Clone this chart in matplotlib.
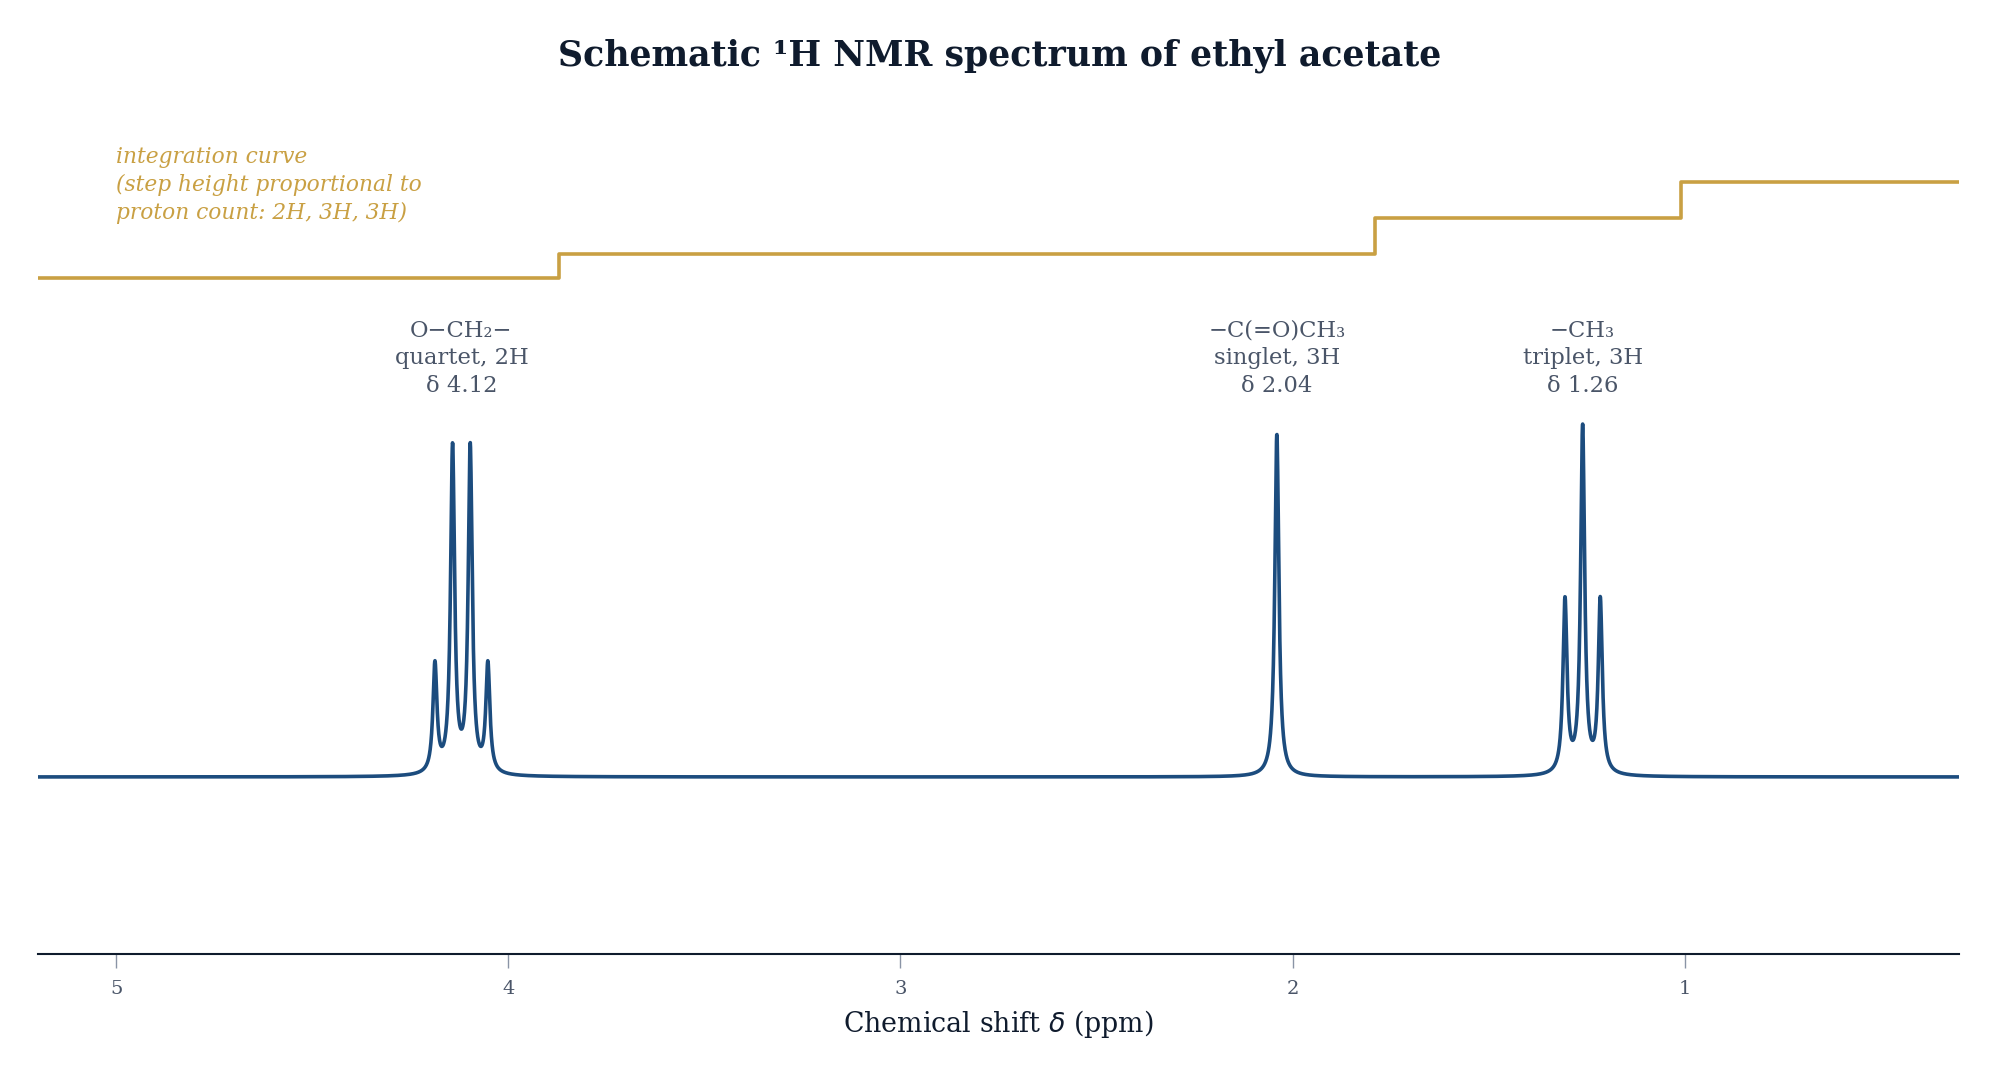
import numpy as np
import matplotlib
matplotlib.use("Agg")
import matplotlib.pyplot as plt

# ---- data ----
group_labels = ["O\u2212CH\u2082\u2212", "\u2212C(=O)CH\u2083", "\u2212CH\u2083"]
group_mult = ["quartet, 2H", "singlet, 3H", "triplet, 3H"]
group_shift = [4.12, 2.04, 1.26]
group_protons = [2, 3, 3]
# individual lines of each multiplet (ppm) and amplitudes
line_pos_q = [4.1875, 4.1425, 4.0975, 4.0525]
line_amp_q = [0.316, 0.95, 0.95, 0.316]
line_pos_s = [2.04]
line_amp_s = [1.0]
line_pos_t = [1.305, 1.26, 1.215]
line_amp_t = [0.505, 1.01, 0.505]
linewidth_ppm = 0.0062   # Lorentzian half width
integ_base = 1.455
integ_per_H = 0.035
integ_step_x = [3.87, 1.79, 1.01]
xticks = [5, 4, 3, 2, 1]
xlim = (5.2, 0.3)

# ---- style ----
serif = ["DejaVu Serif"]
plt.rcParams['font.family'] = serif
navy = "#0f1b2d"
slate = "#4a5568"
blue = "#1c4c7e"
gold = "#c9a043"

fig = plt.figure(figsize=(20, 10.8), dpi=100)
ax = fig.add_axes([0.019, 0.1167, 0.9605, 0.7833])

x = np.linspace(xlim[0], xlim[1], 8000)
pos = line_pos_q + line_pos_s + line_pos_t
amp = line_amp_q + line_amp_s + line_amp_t
y = np.zeros_like(x)
for p, a in zip(pos, amp):
    y += a / (1 + ((x - p) / linewidth_ppm) ** 2)
ax.plot(x, y, color=blue, lw=2.6, solid_capstyle='round')

# integration step curve
levels = [integ_base]
for h in group_protons:
    levels.append(levels[-1] + h * integ_per_H)
sx = [xlim[0]]
sy = [levels[0]]
for i, xs in enumerate(integ_step_x):
    sx += [xs, xs]
    sy += [levels[i], levels[i + 1]]
sx.append(xlim[1])
sy.append(levels[-1])
ax.plot(sx, sy, color=gold, lw=2.6)

ax.text(5.0, 1.838, "integration curve\n(step height proportional to\nproton count: 2H, 3H, 3H)",
        color=gold, style='italic', fontsize=15.7, ha='left', va='top', linespacing=1.32)

for lab, mult, sh in zip(group_labels, group_mult, group_shift):
    ax.text(sh, 1.22, f"{lab}\n{mult}\n\u03b4 {sh:.2f}", color=slate, fontsize=16.3,
            ha='center', va='center', linespacing=1.33)

ax.set_xlim(*xlim)
ax.set_ylim(-0.516, 1.95)
ax.set_yticks([])
ax.set_xticks(xticks)
ax.set_xticklabels([str(t) for t in xticks])
for s in ['top', 'right', 'left']:
    ax.spines[s].set_visible(False)
ax.spines['bottom'].set_color(navy)
ax.spines['bottom'].set_linewidth(1.5)
ax.tick_params(axis='x', colors=slate, labelsize=14, length=10, width=1, pad=9)
ax.tick_params(axis='x', color="#8a94a6")
ax.set_xlabel("Chemical shift $\\delta$ (ppm)", color=navy, fontsize=19.4, labelpad=7)

fig.text(0.5, 0.948, "Schematic \u00b9H NMR spectrum of ethyl acetate", ha='center', va='center',
         fontsize=25, fontweight='bold', color=navy)

fig.savefig("out.png", dpi=100, facecolor='white')
